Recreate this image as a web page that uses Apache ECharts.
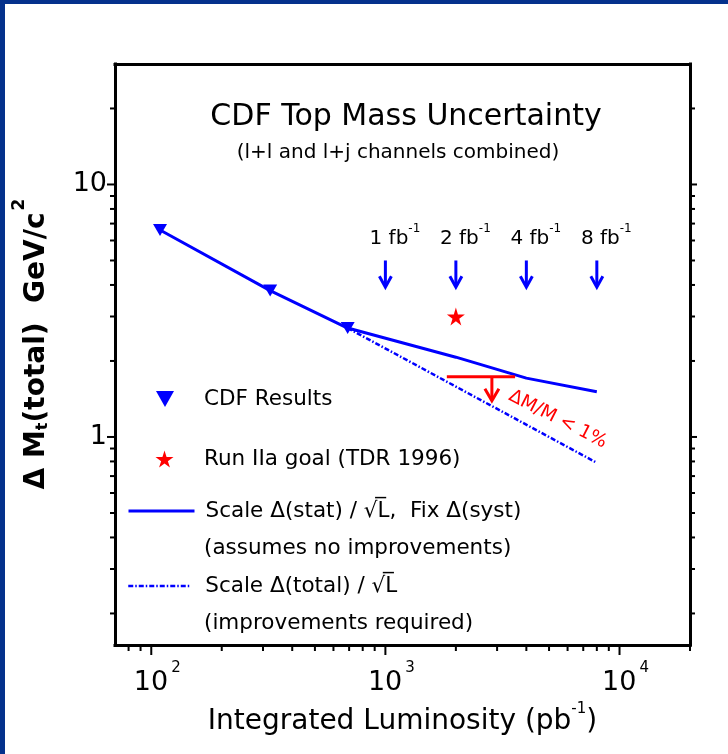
<!DOCTYPE html>
<html><head><meta charset="utf-8">
<script src="https://cdn.jsdelivr.net/npm/echarts@6/dist/echarts.min.js"></script>
<style>html,body{margin:0;padding:0;background:#fff}#c{width:728px;height:754px}</style>
</head><body><div id="c"></div>
<script>
// ---- data ----
const cdfLumi = [109, 322, 690];          // pb^-1
const cdfErr = [6.6, 3.8, 2.7];           // GeV/c^2
const statLumi = [109, 322, 690, 2000, 4000, 8000];
const statErr = [6.6, 3.8, 2.7, 2.07, 1.71, 1.51];
const totalLumi = [690, 8000];
const totalErr = [2.7, 0.79];
const goalLumi = [2000];
const goalErr = [3.0];
const arrowFb = [1, 2, 4, 8];             // fb^-1 markers
const arrowErr = [5.0, 3.92];             // arrow top, arrow tip
const limitLumi = [1830, 3580];
const limitErr = 1.73;
const limitArrowLumi = 2850;
const limitArrowTip = 1.39;
const xMajorTicks = [100, 1000, 10000];
const xMinorTicks = [80, 90, 200, 300, 400, 500, 600, 700, 800, 900, 2000, 3000, 4000, 5000, 6000, 7000, 8000, 9000, 20000];
const yMajorTicks = [1, 10];
const yMinorTicks = [0.2, 0.3, 0.4, 0.5, 0.6, 0.7, 0.8, 0.9, 2, 3, 4, 5, 6, 7, 8, 9, 20];

const FONT = 'DejaVu Sans';
const X_MIN = 70, X_MAX = 20000, Y_MIN = 0.15, Y_MAX = 30;
const BLUE = '#0000ff', RED = '#ff0000', BORDER = '#04318c';
const TRI = 'path://M0,0 L10,0 L5,9 Z';
const STAR = 'path://M50,0 L61,35 L98,35 L68,57 L79,91 L50,70 L21,91 L32,57 L2,35 L39,35 Z';
const S_STAT = 'Scale \u0394(stat) / \u221AL\u0305,  Fix \u0394(syst)';
const S_TOTAL = 'Scale \u0394(total) / \u221AL\u0305';

const zip = (a, b) => a.map((v, i) => [v, b[i]]);
function isPow10(v) { const l = Math.log10(v); return Math.abs(l - Math.round(l)) < 1e-6; }

function tickSeries(values, side, len) {
  return {
    type: 'custom', coordinateSystem: 'cartesian2d', silent: true, clip: false, z: 5,
    data: values.map(v => side === 'bottom' ? [v, Y_MIN] : [side === 'left' ? X_MIN : X_MAX, v]),
    renderItem: (params, api) => {
      const p = api.coord([api.value(0), api.value(1)]);
      let x2 = p[0], y2 = p[1];
      if (side === 'bottom') y2 += len; else if (side === 'left') x2 -= len; else x2 += len;
      return { type: 'line', shape: { x1: p[0], y1: p[1], x2: x2, y2: y2 }, style: { stroke: '#000', lineWidth: 2 } };
    }
  };
}

const chart = echarts.init(document.getElementById('c'), null, { renderer: 'canvas' });
const frameLine = { show: true, onZero: false, lineStyle: { color: '#000', width: 3, cap: 'square' } };
const hiddenSymbol = { opacity: 0, color: 'rgba(0,0,0,0)', borderWidth: 0 };

chart.setOption({
  animation: false,
  backgroundColor: '#fff',
  textStyle: { fontFamily: FONT },
  graphic: [
    { type: 'rect', shape: { x: 0, y: 0, width: 728, height: 4 }, style: { fill: BORDER }, silent: true },
    { type: 'rect', shape: { x: 0, y: 0, width: 5, height: 754 }, style: { fill: BORDER }, silent: true }
  ],
  title: [
    { text: 'CDF Top Mass Uncertainty', left: 406, top: 102, textAlign: 'center', padding: 0,
      textStyle: { fontFamily: FONT, fontSize: 30, fontWeight: 'normal', color: '#000' } },
    { text: '(l+l and l+j channels combined)', left: 398, top: 143, textAlign: 'center', padding: 0,
      textStyle: { fontFamily: FONT, fontSize: 20, fontWeight: 'normal', color: '#000' } },
    { text: '(assumes no improvements)', left: 204, top: 537, padding: 0,
      textStyle: { fontFamily: FONT, fontSize: 21.5, fontWeight: 'normal', color: '#000' } },
    { text: '(improvements required)', left: 204, top: 612, padding: 0,
      textStyle: { fontFamily: FONT, fontSize: 21.5, fontWeight: 'normal', color: '#000' } }
  ],
  legend: [
    { data: ['CDF Results'], left: 156, top: 388, padding: 0, itemWidth: 18, itemHeight: 30, selectedMode: false,
      textStyle: { fontFamily: FONT, fontSize: 21.5, color: '#000', padding: [0, 0, 0, 25] } },
    { data: ['Run IIa goal (TDR 1996)'], left: 155.5, top: 448, padding: 0, itemWidth: 18, itemHeight: 30, selectedMode: false,
      textStyle: { fontFamily: FONT, fontSize: 21.5, color: '#000', padding: [0, 0, 6, 25.5] } },
    { data: [S_STAT], left: 127, top: 499, padding: 0, itemWidth: 66, itemHeight: 30, selectedMode: false,
      itemStyle: hiddenSymbol,
      lineStyle: { width: 3, color: BLUE, type: 'solid' },
      textStyle: { fontFamily: FONT, fontSize: 21.5, color: '#000', padding: [8, 0, 0, 6] } },
    { data: [S_TOTAL], left: 127, top: 574, padding: 0, itemWidth: 63, itemHeight: 30, selectedMode: false,
      itemStyle: hiddenSymbol,
      lineStyle: { width: 2.5, color: BLUE, type: [5, 2, 1.5, 2] },
      textStyle: { fontFamily: FONT, fontSize: 21.5, color: '#000', padding: [8, 0, 0, 9] } }
  ],
  grid: { left: 115, right: 38, top: 64, bottom: 109, containLabel: false, outerBoundsMode: 'none' },
  xAxis: [
    { type: 'log', logBase: 10, min: X_MIN, max: X_MAX, position: 'bottom',
      axisLine: frameLine, axisTick: { show: false }, splitLine: { show: false }, minorTick: { show: false },
      axisLabel: { margin: 16, formatter: v => isPow10(v) ? '{p| }{b|10}{s|' + Math.round(Math.log10(v)) + '}' : '',
        rich: {
          p: { width: 12, fontSize: 15 },
          b: { fontFamily: FONT, fontSize: 27, color: '#000', lineHeight: 44 },
          s: { fontFamily: FONT, fontSize: 15, color: '#000', lineHeight: 15, verticalAlign: 'top', padding: [0, 0, 0, 3] }
        } },
      name: 'Integrated Luminosity (pb{s|-1})', nameLocation: 'middle', nameGap: 51,
      nameTextStyle: { fontFamily: FONT, fontSize: 28, color: '#000', lineHeight: 40,
        rich: { s: { fontFamily: FONT, fontSize: 15, color: '#000', lineHeight: 14, verticalAlign: 'top' } } } },
    { type: 'log', logBase: 10, min: X_MIN, max: X_MAX, position: 'top',
      axisLine: frameLine, axisTick: { show: false }, axisLabel: { show: false }, splitLine: { show: false } }
  ],
  yAxis: [
    { type: 'log', logBase: 10, min: Y_MIN, max: Y_MAX, position: 'left',
      axisLine: frameLine, axisTick: { show: false }, splitLine: { show: false }, minorTick: { show: false },
      axisLabel: { margin: 8, fontFamily: FONT, fontSize: 27, color: '#000',
        formatter: v => isPow10(v) ? String(Math.round(v)) : '' },
      name: '{d|\u0394 M}{sub|t}{d|(total)  GeV/c}{sup|2}', nameLocation: 'middle', nameGap: 52,
      nameTextStyle: { fontFamily: FONT, fontSize: 28, fontWeight: 'bold', color: '#000', padding: [0, 0, 0, 21],
        rich: {
          d: { fontFamily: FONT, fontSize: 28, fontWeight: 'bold', color: '#000', lineHeight: 30 },
          sub: { fontFamily: FONT, fontSize: 16, fontWeight: 'bold', color: '#000', lineHeight: 16, padding: [14, 0, 0, 0] },
          sup: { fontFamily: FONT, fontSize: 17, fontWeight: 'bold', color: '#000', lineHeight: 17, padding: [0, 0, 34, 2] }
        } } },
    { type: 'log', logBase: 10, min: Y_MIN, max: Y_MAX, position: 'right',
      axisLine: frameLine, axisTick: { show: false }, axisLabel: { show: false }, splitLine: { show: false } }
  ],
  series: [
    { name: S_STAT, type: 'line', data: zip(statLumi, statErr), symbol: 'none', showSymbol: false, z: 3,
      lineStyle: { color: BLUE, width: 3 }, itemStyle: { color: BLUE } },
    { name: S_TOTAL, type: 'line', data: zip(totalLumi, totalErr), symbol: 'none', showSymbol: false, z: 3,
      lineStyle: { color: BLUE, width: 2.5, type: [5, 2, 1.5, 2] }, itemStyle: { color: BLUE } },
    { name: 'CDF Results', type: 'scatter', data: zip(cdfLumi, cdfErr), symbol: TRI, symbolSize: [14, 12], z: 4,
      itemStyle: { color: BLUE, opacity: 1 } },
    { name: 'Run IIa goal (TDR 1996)', type: 'scatter', data: zip(goalLumi, goalErr), symbol: STAR, symbolSize: 18, z: 4,
      itemStyle: { color: RED, opacity: 1 } },
    { type: 'custom', silent: true, clip: false, z: 4,
      data: arrowFb.map(f => [f * 1000, arrowErr[0], arrowErr[1]]),
      renderItem: (params, api) => {
        const a = api.coord([api.value(0), api.value(1)]);
        const b = api.coord([api.value(0), api.value(2)]);
        const fb = arrowFb[params.dataIndex];
        return { type: 'group', children: [
          { type: 'line', shape: { x1: a[0], y1: a[1], x2: b[0], y2: b[1] - 2 }, style: { stroke: BLUE, lineWidth: 3 } },
          { type: 'polyline', shape: { points: [[b[0] - 6, b[1] - 11], [b[0], b[1]], [b[0] + 6, b[1] - 11]] },
            style: { stroke: BLUE, lineWidth: 3, fill: null } },
          { type: 'text', x: a[0] + 9.5, y: a[1] - 22,
            style: { text: '{n|' + fb + ' fb}{s|-1}', align: 'center', verticalAlign: 'middle',
              rich: { n: { fontFamily: FONT, fontSize: 20, fill: '#000', lineHeight: 32 },
                      s: { fontFamily: FONT, fontSize: 12, fill: '#000', lineHeight: 12, verticalAlign: 'top' } } } }
        ] };
      } },
    { type: 'custom', silent: true, clip: false, z: 4,
      data: [[limitLumi[0], limitErr, limitLumi[1], limitArrowLumi, limitArrowTip]],
      renderItem: (params, api) => {
        const l = api.coord([api.value(0), api.value(1)]);
        const r = api.coord([api.value(2), api.value(1)]);
        const a = api.coord([api.value(3), api.value(1)]);
        const t = api.coord([api.value(3), api.value(4)]);
        return { type: 'group', children: [
          { type: 'line', shape: { x1: l[0], y1: l[1], x2: r[0], y2: r[1] }, style: { stroke: RED, lineWidth: 3 } },
          { type: 'line', shape: { x1: a[0], y1: a[1], x2: t[0], y2: t[1] - 2 }, style: { stroke: RED, lineWidth: 3 } },
          { type: 'polyline', shape: { points: [[t[0] - 7, t[1] - 12], [t[0], t[1]], [t[0] + 7, t[1] - 12]] },
            style: { stroke: RED, lineWidth: 3, fill: null } },
          { type: 'text', x: t[0] + 18, y: t[1] - 6, rotation: -0.471,
            style: { text: '\u0394M/M < 1%', fontFamily: FONT, fontSize: 18.5, fill: RED, align: 'left', verticalAlign: 'middle' } }
        ] };
      } },
    tickSeries(xMajorTicks, 'bottom', 10),
    tickSeries(xMinorTicks, 'bottom', 6),
    tickSeries(yMajorTicks, 'left', 8),
    tickSeries(yMinorTicks, 'left', 5),
    tickSeries(yMajorTicks, 'right', 7),
    tickSeries(yMinorTicks, 'right', 5)
  ]
});
</script>
</body></html>
